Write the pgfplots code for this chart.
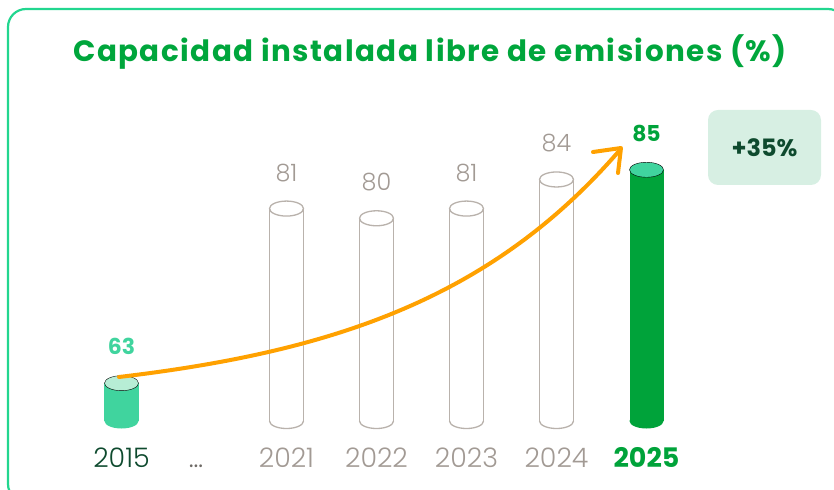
\documentclass[border=0pt]{standalone}
\usepackage{pgfplots}
\usepackage{pgfplotstable}
\pgfplotsset{compat=1.18}
\usepackage{fontspec}
\setmainfont{Poppins}
\newfontfamily\plight{Poppins Light}
\newfontfamily\ptitle{Poppins}[LetterSpace=5]

\definecolor{borderc}{HTML}{22D68F}
\definecolor{tealc}{HTML}{40D49E}
\definecolor{tealtop}{HTML}{B7EDD5}
\definecolor{mygreen}{HTML}{00A33A}
\definecolor{titlegreen}{HTML}{00A63C}
\definecolor{greyc}{HTML}{B9B2AC}
\definecolor{greyt}{HTML}{A29A94}
\definecolor{dgreen}{HTML}{0E4A2E}
\definecolor{dotc}{HTML}{6E6A66}
\definecolor{orangec}{HTML}{FFA100}
\definecolor{boxfill}{HTML}{D7EFE3}

% cylinder parts as plot marks
\pgfdeclareplotmark{cyltop}{%
  \pgfpathellipse{\pgfpointorigin}{\pgfqpoint{17bp}{0pt}}{\pgfqpoint{0pt}{7.5bp}}%
  \pgfusepathqfillstroke}
\pgfdeclareplotmark{cylbotfill}{%
  \pgfpathellipse{\pgfpointorigin}{\pgfqpoint{17bp}{0pt}}{\pgfqpoint{0pt}{7.5bp}}%
  \pgfusepathqfill}
\pgfdeclareplotmark{cylbotline}{%
  \pgfpathrectangle{\pgfqpoint{-16.2bp}{-1bp}}{\pgfqpoint{32.4bp}{2.4bp}}%
  \pgfusepathqfill
  \pgfpathmoveto{\pgfqpoint{17bp}{0pt}}%
  \pgfpatharc{0}{-180}{17bp and 7.5bp}%
  \pgfusepathqstroke}

% x = horizontal position of each cylinder, v = value (%)
\pgfplotstableread{
x v
121.5 63
}\tfirst
\pgfplotstableread{
x v
286.5 81
376.5 80
466.5 81
556.5 84
}\tmid
\pgfplotstableread{
x v
646.5 85
}\tlast

\begin{document}
\begin{tikzpicture}
\useasboundingbox (0,0) rectangle (834bp,490bp);
\clip (0,0) rectangle (834bp,490bp);
\begin{axis}[
  at={(0,0)}, anchor=south west,
  x=1bp, y=9.7bp,
  xmin=0, xmax=834, ymin=-7.113, ymax=43.402,
  axis line style={draw=none}, tick style={draw=none},
  ytick=\empty,
  xtick={121.5,196,286.5,376.5,466.5,556.5,646.5},
  xticklabels={{\color{dgreen}2015},{\color{dotc}\ldots},{\color{greyt}2021},{\color{greyt}2022},{\color{greyt}2023},{\color{greyt}2024},{\normalfont\bfseries\fontsize{27}{30}\selectfont\color{mygreen}2025}},
  xticklabel style={anchor=base, yshift=23bp, font=\plight\fontsize{27}{30}\selectfont},
  /pgf/number format/assume math mode=true,
  clip=false,
]
% baseline of the cylinders is at value 59.1
% 2015
\addplot[ybar, bar width=34bp, bar shift=0pt, fill=tealc, draw=none]
  table[x=x, y expr=\thisrow{v}-59.1] {\tfirst};
\addplot[only marks, mark=cylbotfill, mark options={fill=tealc, draw=none}]
  table[x=x, y expr=0] {\tfirst};
\addplot[only marks, mark=cyltop, mark options={fill=tealtop, draw=none},
  point meta=explicit, nodes near coords,
  every node near coord/.append style={anchor=center, yshift=37bp, text=tealc, font=\bfseries\fontsize{22}{24}\selectfont}]
  table[x=x, y expr=\thisrow{v}-59.1, meta=v] {\tfirst};
% 2021-2024
\addplot[ybar, bar width=34bp, bar shift=0pt, fill=white, draw=greyc, line width=1.3bp]
  table[x=x, y expr=\thisrow{v}-59.1] {\tmid};
\addplot[only marks, mark=cylbotline, mark options={fill=white, draw=greyc, line width=1.3bp}]
  table[x=x, y expr=0] {\tmid};
\addplot[only marks, mark=cyltop, mark options={fill=white, draw=greyc, line width=1.3bp},
  point meta=explicit, nodes near coords,
  every node near coord/.append style={anchor=center, yshift=36bp, text=greyt, font=\plight\fontsize{24}{26}\selectfont}]
  table[x=x, y expr=\thisrow{v}-59.1, meta=v] {\tmid};
% 2025
\addplot[ybar, bar width=34bp, bar shift=0pt, fill=mygreen, draw=none]
  table[x=x, y expr=\thisrow{v}-59.1] {\tlast};
\addplot[only marks, mark=cylbotfill, mark options={fill=mygreen, draw=none}]
  table[x=x, y expr=0] {\tlast};
\addplot[only marks, mark=cyltop, mark options={fill=tealc, draw=none},
  point meta=explicit, nodes near coords,
  every node near coord/.append style={anchor=center, yshift=36bp, text=mygreen, font=\bfseries\fontsize{22}{24}\selectfont}]
  table[x=x, y expr=\thisrow{v}-59.1, meta=v] {\tlast};
\end{axis}
% annotations in pixel coordinates (origin top left)
\begin{scope}[x=1bp, y=-1bp, shift={(0bp,490bp)}]
  \draw[borderc, line width=2.2bp, rounded corners=18bp] (8,9) rectangle (846,502);
  \node[anchor=base, text=titlegreen, font=\ptitle\bfseries\fontsize{29.5}{32}\selectfont] at (430,62) {Capacidad instalada libre de emisiones (\%)};
  \fill[boxfill, rounded corners=10bp] (708,110) rectangle (821,185);
  \node[text=dgreen, font=\bfseries\fontsize{24}{26}\selectfont] at (764.5,148) {+35\%};
  \draw[orangec, line width=4bp, line cap=round, line join=round]
    (119,377) .. controls (330,352) and (490,300) .. (619,151);
  \draw[orangec, line width=4bp, line cap=round, line join=round] (593,152) -- (621,148) -- (618,173);
\end{scope}
\end{tikzpicture}
\end{document}
